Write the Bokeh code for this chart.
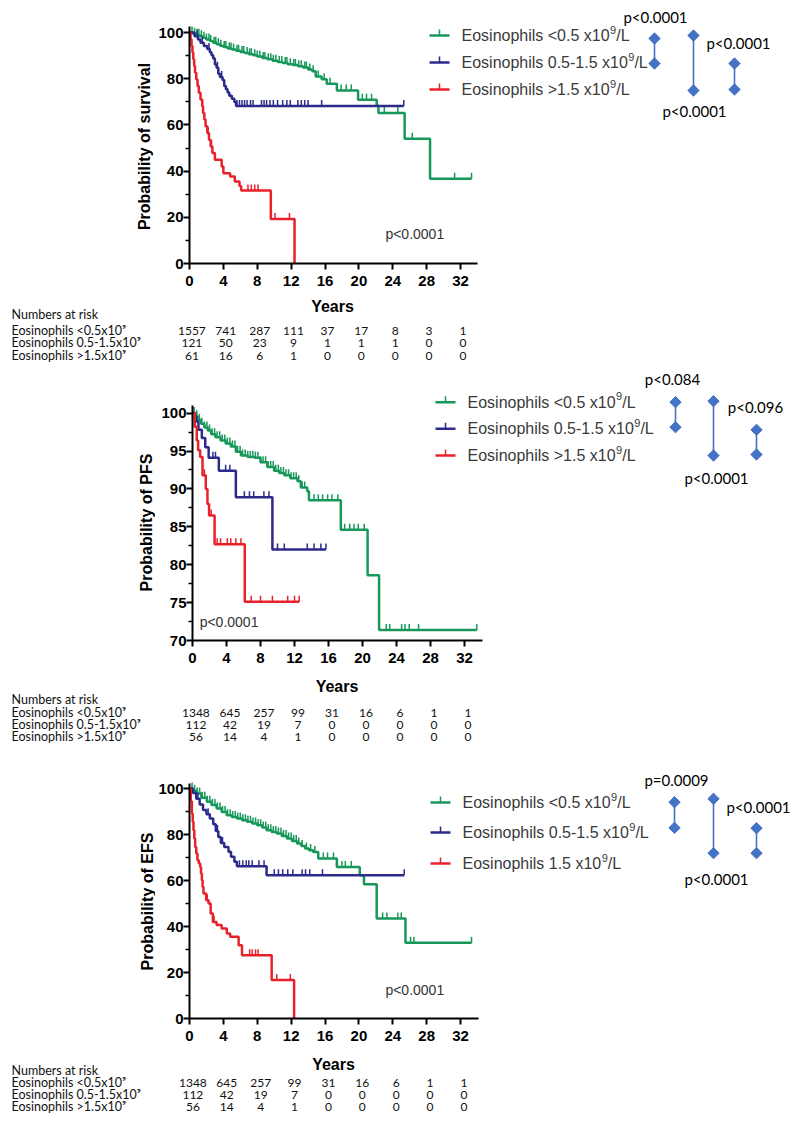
import numpy as np
from math import pi
from bokeh.plotting import figure
from bokeh.models import Range1d, FixedTicker
from bokeh.layouts import column, row
from bokeh.embed import file_html
from bokeh.resources import INLINE
from bokeh.core.properties import value

# ---------------- data ----------------
legend_main = ["Eosinophils <0.5 x10", "Eosinophils 0.5-1.5 x10", "Eosinophils >1.5 x10"]
legend_main_efs = ["Eosinophils <0.5 x10", "Eosinophils 0.5-1.5 x10", "Eosinophils 1.5 x10"]
legend_sup = "9"
legend_unit = "/L"
risk_row_labels = ["Eosinophils <0.5x10⁹", "Eosinophils 0.5-1.5x10⁹", "Eosinophils >1.5x10⁹"]
risk_years = [0, 4, 8, 12, 16, 20, 24, 28, 32]
x_ticks = [0, 4, 8, 12, 16, 20, 24, 28, 32]

# Overall survival
os_green_t = [0, 0.4, 0.8, 1.2, 1.6, 2.0, 2.4, 2.8, 3.2, 3.6, 4.0, 4.5, 5.0, 5.5, 6.0, 6.5, 7.0, 7.5, 8.0, 8.6, 9.2, 9.8, 10.4, 11.0, 11.6, 12.2, 12.8, 13.4, 14.0, 14.5, 14.9, 15.6, 16.2, 17.4, 19.9, 22.1, 22.3, 25.4, 28.4, 33.3]
os_green_s = [100, 99.5, 99.0, 98.4, 97.7, 97.0, 96.3, 95.6, 94.9, 94.3, 93.7, 93.1, 92.6, 92.1, 91.6, 91.1, 90.6, 90.1, 89.6, 89.0, 88.4, 87.8, 87.2, 86.8, 86.3, 85.9, 85.4, 84.8, 84.0, 83.2, 81.0, 79.8, 77.8, 74.9, 70.9, 68.4, 65.1, 54.0, 36.7, 36.7]
os_green_c = [0.3, 0.6, 0.9, 1.1, 1.4, 1.7, 2.0, 2.3, 2.5, 2.9, 3.1, 3.4, 3.7, 4.1, 4.3, 4.7, 4.9, 5.2, 5.6, 5.8, 6.2, 6.4, 6.8, 7.1, 7.3, 7.7, 8.0, 8.3, 8.7, 8.9, 9.3, 9.6, 9.9, 10.2, 10.6, 10.9, 11.3, 11.5, 11.9, 12.3, 12.5, 12.9, 13.2, 13.6, 13.8, 14.2, 14.6, 15.2, 15.9, 16.6, 17.9, 18.5, 19.1, 20.4, 20.9, 21.5, 23.0, 24.6, 26.3, 31.3, 33.3]
os_blue_t = [0, 0.6, 1.0, 1.3, 1.7, 2.1, 2.4, 2.6, 2.8, 3.0, 3.2, 3.4, 3.6, 3.9, 4.1, 4.3, 4.5, 4.7, 5.0, 5.3, 5.5, 25.3]
os_blue_s = [100, 98.4, 97.0, 95.6, 94.2, 92.9, 91.5, 90.1, 88.7, 86.1, 84.7, 82.1, 80.7, 79.4, 76.8, 75.4, 74.0, 72.6, 71.3, 69.9, 68.2, 68.2]
os_blue_c = [0.9, 1.5, 2.3, 3.3, 3.8, 5.6, 5.9, 6.2, 6.5, 6.8, 7.2, 7.5, 8.5, 8.8, 9.1, 9.5, 9.9, 10.4, 11.0, 11.5, 11.9, 12.8, 13.2, 13.6, 14.0, 15.6, 25.3]
os_red_t = [0, 0.12, 0.24, 0.35, 0.45, 0.55, 0.65, 0.8, 0.95, 1.1, 1.3, 1.5, 1.6, 1.75, 1.9, 2.1, 2.3, 2.5, 2.7, 3.0, 3.8, 4.0, 4.8, 5.35, 5.9, 6.1, 9.6, 12.4]
os_red_s = [100, 97.1, 94.2, 91.3, 88.4, 85.5, 82.6, 79.7, 76.8, 73.9, 71.0, 68.1, 65.2, 62.3, 59.4, 56.5, 53.6, 50.7, 47.8, 44.9, 42.0, 39.1, 37.7, 35.5, 33.6, 31.6, 19.3, 0]
os_red_c = [2.2, 2.6, 6.9, 7.3, 7.7, 8.1, 10.1, 11.8]

# Progression-free survival
pfs_green_t = [0, 0.3, 0.6, 1.0, 1.4, 1.8, 2.2, 2.7, 3.3, 3.9, 4.5, 5.1, 5.7, 6.5, 7.3, 8.0, 8.8, 9.6, 10.2, 10.8, 11.5, 12.35, 12.75, 13.5, 13.7, 17.45, 20.6, 21.95, 33.45]
pfs_green_s = [100, 99.6, 99.1, 98.6, 98.1, 97.7, 97.2, 96.8, 96.4, 96.0, 95.6, 94.9, 94.4, 94.2, 94.1, 93.5, 92.9, 92.4, 92.1, 91.8, 91.4, 91.0, 90.2, 89.7, 88.5, 84.6, 78.6, 71.4, 71.4]
pfs_green_c = [0.2, 0.5, 0.8, 1.1, 1.4, 1.7, 2.0, 2.3, 2.6, 2.9, 3.2, 3.5, 3.8, 4.1, 4.4, 4.7, 5.0, 5.3, 5.6, 5.9, 6.2, 6.5, 6.8, 7.1, 7.4, 7.7, 8.0, 8.3, 8.6, 8.9, 9.2, 9.5, 9.8, 10.1, 10.4, 10.7, 11.0, 11.3, 11.6, 11.9, 12.2, 12.5, 12.9, 13.2, 14.3, 14.8, 15.3, 15.9, 16.4, 17.1, 17.9, 18.5, 19.0, 19.5, 20.2, 22.8, 23.2, 24.6, 25.0, 25.5, 26.6, 33.45]
pfs_blue_t = [0, 0.3, 0.7, 1.1, 1.5, 1.9, 3.1, 5.1, 9.4, 15.7]
pfs_blue_s = [100, 98.9, 97.8, 96.7, 95.5, 94.1, 92.4, 88.9, 82.0, 82.0]
pfs_blue_c = [0.5, 2.4, 2.7, 3.9, 4.4, 6.1, 6.7, 7.2, 8.4, 9.0, 10.0, 10.8, 13.5, 14.3, 15.1, 15.7]
pfs_red_t = [0, 0.27, 0.5, 0.66, 0.9, 1.18, 1.56, 1.76, 1.95, 2.6, 6.15, 12.55]
pfs_red_s = [100, 98.2, 96.4, 95.1, 94.2, 91.8, 90.0, 88.0, 86.5, 82.7, 75.1, 75.1]
pfs_red_c = [1.4, 2.2, 2.9, 3.3, 4.1, 4.5, 5.1, 5.7, 6.9, 8.0, 9.4, 11.2, 12.0, 12.55]

# Event-free survival
efs_green_t = [0, 0.4, 0.87, 1.4, 2.05, 2.6, 3.2, 3.8, 4.4, 5.0, 5.6, 6.2, 6.8, 7.4, 8.0, 8.6, 9.1, 9.7, 10.3, 10.9, 11.5, 12.1, 12.7, 13.2, 13.65, 14.1, 14.6, 15.2, 17.4, 20.1, 20.6, 22.1, 25.5, 33.3]
efs_green_s = [100, 99.0, 97.8, 96.0, 94.2, 92.8, 91.3, 89.8, 88.4, 87.6, 87.0, 86.2, 85.5, 84.8, 84.0, 83.0, 81.9, 81.1, 80.4, 79.4, 78.3, 77.2, 76.1, 75.0, 73.9, 73.2, 72.4, 69.6, 65.9, 62.3, 58.4, 43.5, 32.9, 32.9]
efs_green_c = [0.3, 0.6, 0.9, 1.2, 1.5, 1.8, 2.1, 2.4, 2.7, 3.0, 3.3, 3.6, 3.9, 4.2, 4.5, 4.8, 5.1, 5.4, 5.7, 6.0, 6.3, 6.6, 6.9, 7.2, 7.5, 7.8, 8.1, 8.4, 8.7, 9.0, 9.3, 9.6, 9.9, 10.2, 10.5, 10.8, 11.1, 11.4, 11.7, 12.0, 12.3, 12.6, 12.9, 13.3, 13.8, 14.3, 14.8, 15.8, 16.3, 17.0, 18.0, 18.4, 19.1, 22.8, 23.3, 24.6, 25.0, 26.1, 26.5, 33.3]
efs_blue_t = [0, 0.4, 0.8, 1.2, 1.6, 2.0, 2.4, 2.8, 3.1, 3.4, 3.7, 4.1, 4.6, 4.9, 5.3, 5.6, 9.1, 25.35]
efs_blue_s = [100, 98.0, 95.5, 93.0, 90.6, 88.8, 87.0, 84.5, 81.5, 78.9, 76.3, 74.6, 72.5, 70.3, 68.1, 66.2, 62.3, 62.3]
efs_blue_c = [1.0, 2.2, 3.3, 3.9, 5.9, 6.3, 6.7, 7.0, 7.4, 8.2, 8.8, 10.0, 10.5, 11.0, 11.6, 12.2, 13.3, 13.7, 14.2, 15.7, 25.35]
efs_red_t = [0, 0.15, 0.28, 0.38, 0.47, 0.57, 0.67, 0.8, 0.94, 1.1, 1.26, 1.36, 1.46, 1.55, 1.65, 1.97, 2.25, 2.5, 2.76, 3.2, 3.8, 4.4, 4.8, 5.8, 6.2, 9.7, 12.35]
efs_red_s = [100, 94.5, 89.1, 85.5, 81.9, 78.3, 74.6, 71.7, 68.8, 67.4, 65.9, 63.0, 60.1, 57.2, 54.3, 51.4, 50.0, 45.7, 42.0, 40.6, 39.1, 37.0, 35.5, 31.9, 27.5, 16.7, 0]
efs_red_c = [2.1, 2.9, 7.1, 7.4, 7.8, 8.1, 10.3, 11.9]

# Numbers at risk
os_risk = [[1557, 741, 287, 111, 37, 17, 8, 3, 1],
           [121, 50, 23, 9, 1, 1, 1, 0, 0],
           [61, 16, 6, 1, 0, 0, 0, 0, 0]]
pfs_risk = [[1348, 645, 257, 99, 31, 16, 6, 1, 1],
            [112, 42, 19, 7, 0, 0, 0, 0, 0],
            [56, 14, 4, 1, 0, 0, 0, 0, 0]]
efs_risk = [[1348, 645, 257, 99, 31, 16, 6, 1, 1],
            [112, 42, 19, 7, 0, 0, 0, 0, 0],
            [56, 14, 4, 1, 0, 0, 0, 0, 0]]

os_pairwise = ["p<0.0001", "p<0.0001", "p<0.0001"]
pfs_pairwise = ["p<0.084", "p<0.0001", "p<0.096"]
efs_pairwise = ["p=0.0009", "p<0.0001", "p<0.0001"]
overall_p = "p<0.0001"

# ---------------- style ----------------
COLORS = ["#17985a", "#2c2a8a", "#e8212b"]
DIAM = "#4472c4"
AX_FONT = "Liberation Sans"
TABLE_FONT = "Lato"
PAGE_W = 798
LEFT_W = 155   # width of the strip that holds the y-axis title
LEG_SIZE = 16
SUP_SIZE = 11

# Arial / Liberation Sans advance widths (per 1000 em) for measuring legend text
ARIAL_W = {" ": 278, "<": 584, ">": 584, ".": 278, "-": 333, "/": 278, "E": 667, "L": 556,
           "o": 556, "s": 500, "i": 222, "n": 556, "p": 556, "h": 556, "l": 222, "x": 500}


def text_width(s, size):
    return sum(ARIAL_W.get(ch, 556) for ch in s) * size / 1000.0


panels = [
    dict(ylabel="Probability of survival",
         curves=[(os_green_t, os_green_s, os_green_c), (os_blue_t, os_blue_s, os_blue_c), (os_red_t, os_red_s, os_red_c)],
         labels=legend_main, risk=os_risk, pairwise=os_pairwise,
         yticks=[0, 20, 40, 60, 80, 100], yminor=[10, 30, 50, 70, 90],
         x0=188, xs=8.47, top=0, bottom=263, ymin=0, ys=2.31, km_bottom=293, fig_bottom=368,
         xbound=34.0, ybound=102.6,
         ylab_pos=(143.5, 146), overall_pos=(26.6, 12.9),
         leg_left=428, leg_rows=[35, 62, 89],
         pairs=[(653, 38, 63), (692, 35, 90), (733, 63, 89)],
         plabels=[(654, 16), (693, 110), (737, 42)],
         years_y=306, nar_y=314, rows_y=[330, 342, 355]),
    dict(ylabel="Probability of PFS",
         curves=[(pfs_green_t, pfs_green_s, pfs_green_c), (pfs_blue_t, pfs_blue_s, pfs_blue_c), (pfs_red_t, pfs_red_s, pfs_red_c)],
         labels=legend_main, risk=pfs_risk, pairwise=pfs_pairwise,
         yticks=[70, 75, 80, 85, 90, 95, 100], yminor=[72.5, 77.5, 82.5, 87.5, 92.5, 97.5],
         x0=192, xs=8.5, top=368, bottom=640, ymin=70, ys=7.58, km_bottom=670, fig_bottom=750,
         xbound=34.1, ybound=101.0,
         ylab_pos=(146, 522), overall_pos=(4.3, 72.4),
         leg_left=435, leg_rows=[401.7, 428.3, 455],
         pairs=[(675, 401.7, 426.7), (713, 400.7, 455), (756, 429.3, 454)],
         plabels=[(672, 378), (716, 477), (755, 406)],
         years_y=686, nar_y=699, rows_y=[712, 724, 736]),
    dict(ylabel="Probability of EFS",
         curves=[(efs_green_t, efs_green_s, efs_green_c), (efs_blue_t, efs_blue_s, efs_blue_c), (efs_red_t, efs_red_s, efs_red_c)],
         labels=legend_main_efs, risk=efs_risk, pairwise=efs_pairwise,
         yticks=[0, 20, 40, 60, 80, 100], yminor=[10, 30, 50, 70, 90],
         x0=189, xs=8.47, top=750, bottom=1018, ymin=0, ys=2.30, km_bottom=1048, fig_bottom=1120,
         xbound=34.1, ybound=102.2,
         ylab_pos=(146.5, 901), overall_pos=(26.6, 12.6),
         leg_left=430, leg_rows=[802, 832, 863],
         pairs=[(674, 801.7, 827.3), (713, 798.3, 852.7), (756, 827.7, 852.7)],
         plabels=[(676, 779.3), (716, 878), (758, 806.7)],
         years_y=1064, nar_y=1070, rows_y=[1082, 1094, 1106]),
]


def step_value(t, s, x):
    t = np.asarray(t, dtype=float)
    s = np.asarray(s, dtype=float)
    idx = np.searchsorted(t, np.asarray(x, dtype=float), side="right") - 1
    idx = np.clip(idx, 0, len(s) - 1)
    return s[idx]


def blank_fig(width, height, x_range, y_range):
    f = figure(output_backend="svg", toolbar_location=None,
               frame_width=int(width), frame_height=int(height),
               min_border_left=0, min_border_right=0, min_border_top=0, min_border_bottom=0,
               x_range=x_range, y_range=y_range,
               x_axis_location=None, y_axis_location=None)
    f.outline_line_color = None
    f.xgrid.visible = False
    f.ygrid.visible = False
    return f


def make_panel(cfg):
    x0, xs, top, bottom, ymin, ys = cfg["x0"], cfg["xs"], cfg["top"], cfg["bottom"], cfg["ymin"], cfg["ys"]
    fw = PAGE_W - x0
    fh = bottom - top
    X = lambda px: (px - x0) / xs
    Y = lambda py: ymin + (bottom - py) / ys

    # ---- y-axis title strip ----
    lf = blank_fig(LEFT_W, cfg["km_bottom"] - top, Range1d(0, LEFT_W), Range1d(cfg["km_bottom"], top))
    lx, ly = cfg["ylab_pos"]
    lf.text(x=[lx], y=[ly], text=[cfg["ylabel"]], angle=pi / 2, text_font=value(AX_FONT),
            text_font_style="bold", text_font_size="16px", text_color="black",
            text_align="center", text_baseline="middle")

    # ---- survival plot ----
    p = figure(output_backend="svg", toolbar_location=None,
               frame_width=int(fw), frame_height=int(fh),
               min_border_left=int(x0 - LEFT_W), min_border_right=0, min_border_top=0,
               min_border_bottom=int(cfg["km_bottom"] - bottom),
               x_range=Range1d(0, fw / xs), y_range=Range1d(ymin, ymin + fh / ys))
    p.outline_line_color = None
    p.xgrid.visible = False
    p.ygrid.visible = False

    p.xaxis.ticker = FixedTicker(ticks=x_ticks)
    p.yaxis.ticker = FixedTicker(ticks=cfg["yticks"], minor_ticks=cfg["yminor"])
    p.xaxis.bounds = (0, cfg["xbound"])
    p.yaxis.bounds = (ymin, cfg["ybound"])
    for ax in (p.xaxis[0], p.yaxis[0]):
        ax.axis_line_width = 2
        ax.axis_line_color = "black"
        ax.major_tick_line_width = 2
        ax.major_tick_line_color = "black"
        ax.major_tick_in = 0
        ax.major_tick_out = 6
        ax.minor_tick_line_width = 1.5
        ax.minor_tick_line_color = "black"
        ax.minor_tick_in = 0
        ax.minor_tick_out = 4
        ax.major_label_text_font = AX_FONT
        ax.major_label_text_font_style = "bold"
        ax.major_label_text_font_size = "15px"
        ax.major_label_text_color = "black"
    p.xaxis.minor_tick_line_color = None
    p.xaxis.major_label_standoff = 6
    p.yaxis.major_label_standoff = 0

    for (t, s, c), col in zip(cfg["curves"], COLORS):
        p.step(x=t, y=s, mode="after", line_color=col, line_width=2.5)
        cy = step_value(t, s, c)
        p.segment(x0=c, y0=list(cy), x1=c, y1=list(cy + 6.0 / ys), line_color=col, line_width=1.5)

    # legend (drawn by hand: line with a censor tick, then the label with a raised exponent)
    ll = cfg["leg_left"]
    for ry, col, lab in zip(cfg["leg_rows"], COLORS, cfg["labels"]):
        p.segment(x0=[X(ll)], y0=[Y(ry)], x1=[X(ll + 20)], y1=[Y(ry)], line_color=col, line_width=2.5)
        p.segment(x0=[X(ll + 10)], y0=[Y(ry)], x1=[X(ll + 10)], y1=[Y(ry - 6)], line_color=col, line_width=1.5)
        tx = ll + 32
        w_main = text_width(lab, LEG_SIZE)
        w_sup = text_width(legend_sup, SUP_SIZE)
        p.text(x=[X(tx)], y=[Y(ry)], text=[lab], text_font=value(AX_FONT),
               text_font_size=f"{LEG_SIZE}px", text_color="#3a3a3a", text_align="left", text_baseline="middle")
        p.text(x=[X(tx + w_main + 0.5)], y=[Y(ry - 6)], text=[legend_sup], text_font=value(AX_FONT),
               text_font_size=f"{SUP_SIZE}px", text_color="#3a3a3a", text_align="left", text_baseline="middle")
        p.text(x=[X(tx + w_main + w_sup + 0.5)], y=[Y(ry)], text=[legend_unit], text_font=value(AX_FONT),
               text_font_size=f"{LEG_SIZE}px", text_color="#3a3a3a", text_align="left", text_baseline="middle")

    # pairwise comparison diagram
    px_ = [X(a) for a, _, _ in cfg["pairs"]]
    y0_ = [Y(b) for _, b, _ in cfg["pairs"]]
    y1_ = [Y(c) for _, _, c in cfg["pairs"]]
    p.segment(x0=px_, y0=y0_, x1=px_, y1=y1_, line_color=DIAM, line_width=1.6)
    p.scatter(x=px_ + px_, y=y0_ + y1_, marker="square", angle=pi / 4, size=8,
              fill_color=DIAM, line_color=DIAM)
    p.text(x=[X(a) for a, _ in cfg["plabels"]], y=[Y(b) for _, b in cfg["plabels"]],
           text=cfg["pairwise"], text_font=value(TABLE_FONT), text_font_size="15px",
           text_color="black", text_align="center", text_baseline="middle")

    # overall p value
    ox, oy = cfg["overall_pos"]
    p.text(x=[ox], y=[oy], text=[overall_p], text_font=value("Liberation Sans"), text_font_size="14px",
           text_color="#333333", text_align="center", text_baseline="middle")

    # ---- numbers-at-risk table ----
    tf = blank_fig(PAGE_W, cfg["fig_bottom"] - cfg["km_bottom"],
                   Range1d(-x0 / xs, (PAGE_W - x0) / xs), Range1d(cfg["fig_bottom"], cfg["km_bottom"]))
    tf.text(x=[17], y=[cfg["years_y"]], text=["Years"], text_font=value(AX_FONT), text_font_style="bold",
            text_font_size="16px", text_color="black", text_align="center", text_baseline="middle")
    lab_x = (11 - x0) / xs
    tf.text(x=[lab_x] * 4, y=[cfg["nar_y"]] + cfg["rows_y"], text=["Numbers at risk"] + risk_row_labels,
            text_font=value(TABLE_FONT), text_font_size="12.5px", text_color="#111111",
            text_align="left", text_baseline="middle")
    nx, ny, nt = [], [], []
    for row_vals, ry in zip(cfg["risk"], cfg["rows_y"]):
        for yr, v in zip(risk_years, row_vals):
            nx.append(yr + 0.4)
            ny.append(ry)
            nt.append(str(v))
    tf.text(x=nx, y=ny, text=nt, text_font=value(TABLE_FONT), text_font_size="12px",
            text_color="#111111", text_align="center", text_baseline="middle")

    return column(row(lf, p, spacing=0), tf, spacing=0)


layout = column(*[make_panel(c) for c in panels], spacing=0)
open("out.html", "w").write(file_html(layout, INLINE))
